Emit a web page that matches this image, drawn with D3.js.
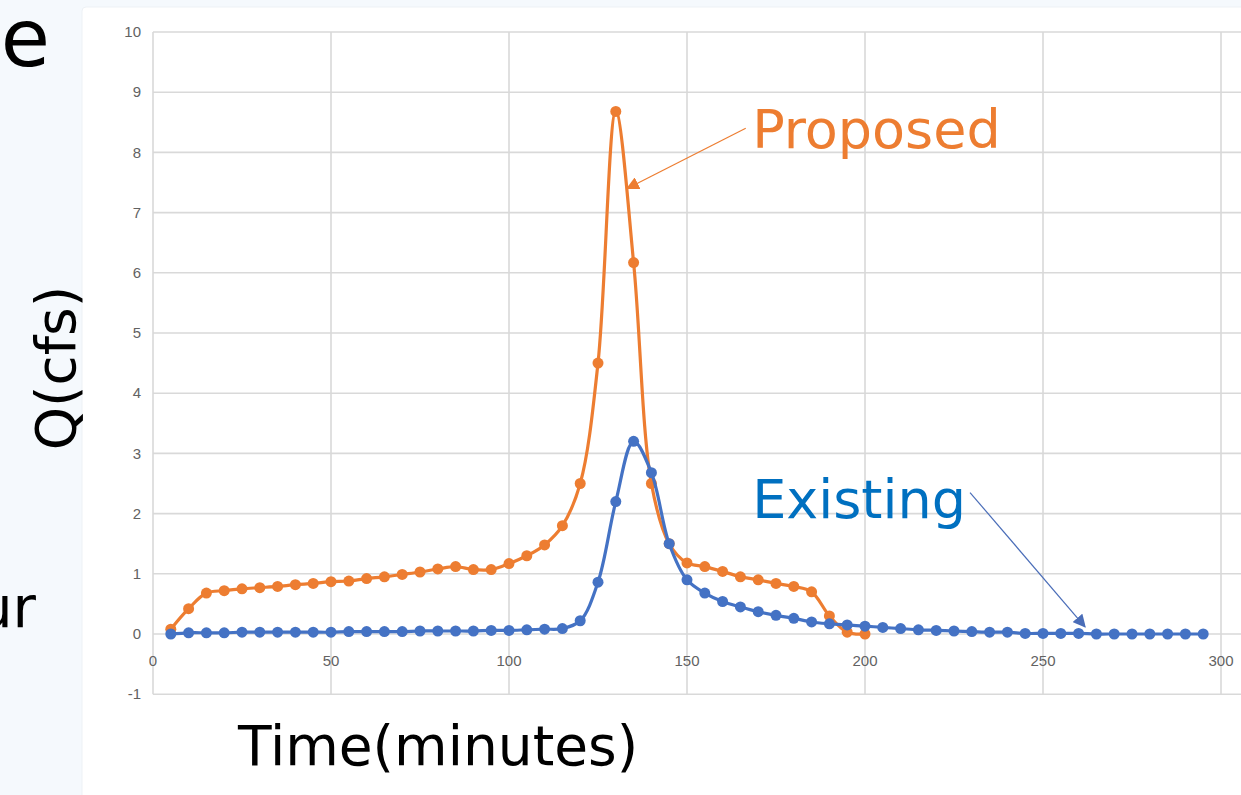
<!DOCTYPE html>
<html>
<head>
    <title>Hydrograph</title>
    <script src="https://cdn.jsdelivr.net/npm/d3@7/dist/d3.min.js"></script>
    <style>
        html, body {
            margin: 0;
            padding: 0;
            background: #f5f9fd;
            font-family: "DejaVu Sans", sans-serif;
        }
        .tick-label {
            font-family: "Liberation Sans Narrow", "Liberation Sans", sans-serif;
            font-size: 15px;
            fill: #626262;
        }
    </style>
</head>
<body>
    <svg width="1241" height="795" id="mainsvg" style="display: block;"></svg>
    <script>
        // time in minutes, Q in cfs
        const existingTime = [5, 10, 15, 20, 25, 30, 35, 40, 45, 50, 55, 60, 65, 70, 75, 80, 85, 90, 95, 100,
            105, 110, 115, 120, 125, 130, 135, 140, 145, 150, 155, 160, 165, 170, 175, 180, 185, 190, 195, 200,
            205, 210, 215, 220, 225, 230, 235, 240, 245, 250, 255, 260, 265, 270, 275, 280, 285, 290, 295];
        const existingQ = [0.0, 0.02, 0.02, 0.02, 0.03, 0.03, 0.03, 0.03, 0.03, 0.03, 0.04, 0.04, 0.04, 0.04, 0.05, 0.05, 0.05, 0.05, 0.06, 0.06,
            0.07, 0.08, 0.09, 0.22, 0.86, 2.2, 3.2, 2.68, 1.5, 0.9, 0.68, 0.54, 0.45, 0.37, 0.31, 0.26, 0.2, 0.17, 0.15, 0.13,
            0.11, 0.09, 0.07, 0.06, 0.05, 0.04, 0.03, 0.03, 0.01, 0.01, 0.01, 0.01, 0.0, 0.0, 0.0, 0.0, 0.0, 0.0, 0.0];

        const proposedTime = [5, 10, 15, 20, 25, 30, 35, 40, 45, 50, 55, 60, 65, 70, 75, 80, 85, 90, 95, 100,
            105, 110, 115, 120, 125, 130, 135, 140, 145, 150, 155, 160, 165, 170, 175, 180, 185, 190, 195, 200];
        const proposedQ = [0.08, 0.42, 0.68, 0.72, 0.75, 0.77, 0.79, 0.82, 0.84, 0.87, 0.88, 0.92, 0.95, 0.99, 1.03, 1.08, 1.12, 1.07, 1.07, 1.17,
            1.3, 1.48, 1.8, 2.5, 4.5, 8.68, 6.17, 2.5, 1.5, 1.18, 1.12, 1.04, 0.95, 0.9, 0.84, 0.79, 0.7, 0.3, 0.03, 0.0];

        const xTicks = [0, 50, 100, 150, 200, 250, 300];
        const yTicks = [-1, 0, 1, 2, 3, 4, 5, 6, 7, 8, 9, 10];

        const svg = d3.select('#mainsvg');

        // white chart panel
        svg.append('rect')
            .attr('x', 82).attr('y', 7)
            .attr('width', 1180).attr('height', 800)
            .attr('rx', 4)
            .attr('fill', '#ffffff')
            .attr('stroke', '#edf1f5');

        // leftover slide text
        svg.append('text')
            .attr('x', 50).attr('y', 66)
            .attr('text-anchor', 'end')
            .attr('font-size', 80)
            .attr('fill', '#000')
            .text('e');
        svg.append('text')
            .attr('x', 36).attr('y', 627)
            .attr('text-anchor', 'end')
            .attr('font-size', 57)
            .attr('fill', '#000')
            .text('ur');

        // plot continues past the right edge of the picture
        const xScale = d3.scaleLinear().domain([0, 350]).range([153, 153 + 350 * 3.56]);
        const yScale = d3.scaleLinear().domain([-1, 10]).range([694.2, 32]);

        // gridlines
        svg.append('g').selectAll('line')
            .data(yTicks)
            .join('line')
                .attr('x1', xScale(0)).attr('x2', 1241)
                .attr('y1', d => yScale(d)).attr('y2', d => yScale(d))
                .attr('stroke', '#d9d9d9')
                .attr('stroke-width', 1.6);
        svg.append('g').selectAll('line')
            .data(xTicks)
            .join('line')
                .attr('x1', d => xScale(d)).attr('x2', d => xScale(d))
                .attr('y1', yScale(10)).attr('y2', yScale(-1))
                .attr('stroke', '#d9d9d9')
                .attr('stroke-width', 1.6);

        // tick labels
        svg.append('g').selectAll('text')
            .data(yTicks)
            .join('text')
                .attr('class', 'tick-label')
                .attr('x', 141)
                .attr('y', d => yScale(d))
                .attr('dy', '0.35em')
                .attr('text-anchor', 'end')
                .text(d => d);
        svg.append('g').selectAll('text')
            .data(xTicks)
            .join('text')
                .attr('class', 'tick-label')
                .attr('x', d => xScale(d))
                .attr('y', 661)
                .attr('dy', '0.35em')
                .attr('text-anchor', 'middle')
                .text(d => d);

        // axis titles
        svg.append('text')
            .attr('x', 238).attr('y', 765)
            .attr('font-size', 55)
            .attr('fill', '#000')
            .text('Time(minutes)');
        svg.append('text')
            .attr('transform', 'translate(75, 368) rotate(-90)')
            .attr('text-anchor', 'middle')
            .attr('font-size', 55)
            .attr('fill', '#000')
            .text('Q(cfs)');

        // series
        const line = d3.line()
            .x(d => xScale(d[0]))
            .y(d => yScale(d[1]))
            .curve(d3.curveCatmullRom.alpha(0.5));

        const series = [
            { name: 'Proposed', time: proposedTime, q: proposedQ, color: '#ed7d31' },
            { name: 'Existing', time: existingTime, q: existingQ, color: '#4472c4' }
        ];

        series.forEach(s => {
            const pts = s.time.map((t, i) => [t, s.q[i]]);
            svg.append('path')
                .datum(pts)
                .attr('d', line)
                .attr('fill', 'none')
                .attr('stroke', s.color)
                .attr('stroke-width', 3.2);
            svg.append('g').selectAll('circle')
                .data(pts)
                .join('circle')
                    .attr('cx', d => xScale(d[0]))
                    .attr('cy', d => yScale(d[1]))
                    .attr('r', 5.5)
                    .attr('fill', s.color);
        });

        // annotations with arrows
        const defs = svg.append('defs');
        [['arrowOrange', '#ed7d31'], ['arrowBlue', '#4a6db8']].forEach(([id, c]) => {
            defs.append('marker')
                .attr('id', id)
                .attr('viewBox', '0 0 10 10')
                .attr('refX', 9).attr('refY', 5)
                .attr('markerWidth', 13).attr('markerHeight', 13)
                .attr('markerUnits', 'userSpaceOnUse')
                .attr('orient', 'auto')
                .append('path')
                    .attr('d', 'M0,0 L10,5 L0,10 Z')
                    .attr('fill', c);
        });

        svg.append('line')
            .attr('x1', xScale(166.5)).attr('y1', yScale(8.4))
            .attr('x2', xScale(133.2)).attr('y2', yScale(7.4))
            .attr('stroke', '#ed7d31')
            .attr('stroke-width', 1.2)
            .attr('marker-end', 'url(#arrowOrange)');
        svg.append('text')
            .attr('x', xScale(168.3)).attr('y', yScale(8.08))
            .attr('font-size', 54)
            .attr('fill', '#ed7d31')
            .text('Proposed');

        svg.append('line')
            .attr('x1', xScale(229.5)).attr('y1', yScale(2.35))
            .attr('x2', xScale(261.8)).attr('y2', yScale(0.12))
            .attr('stroke', '#4a6db8')
            .attr('stroke-width', 1.2)
            .attr('marker-end', 'url(#arrowBlue)');
        svg.append('text')
            .attr('x', xScale(168.3)).attr('y', yScale(1.93))
            .attr('font-size', 54)
            .attr('fill', '#0070c0')
            .text('Existing');
    </script>
</body>
</html>
